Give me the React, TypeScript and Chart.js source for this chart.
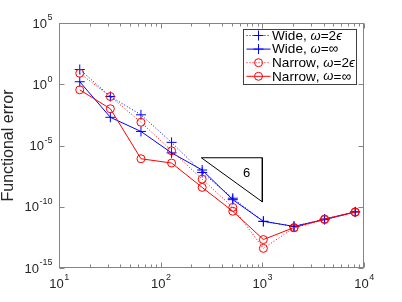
import React, { useEffect, useRef } from 'react';
import { Chart, registerables } from 'chart.js';
Chart.register(...registerables);

const problemSizes = [16, 32, 64, 128, 256, 512, 1024, 2048, 4096, 8192];
const wideTwoEps = [16, 1e-1, 3.2e-3, 1.8e-5, 6.3e-8, 5e-10, 6.3e-12, 2.5e-12, 1e-11, 3.8e-11];
const wideInf = [1.6, 2e-3, 1.4e-4, 2.5e-6, 1e-7, 3.8e-10, 6.5e-12, 2.5e-12, 8.9e-12, 3.8e-11];
const narrowTwoEps = [7.9, 1e-1, 7.9e-4, 3.7e-6, 1.8e-8, 8.9e-11, 4e-14, 1.9e-12, 8.9e-12, 3.5e-11];
const narrowInf = [0.35, 1e-2, 8.3e-7, 3.7e-7, 3.8e-9, 4.3e-11, 2.1e-13, 2e-12, 1e-11, 3.8e-11];

const seriesLabels = ['Wide, ω=2ϵ', 'Wide, ω=∞', 'Narrow, ω=2ϵ', 'Narrow, ω=∞'];
const seriesColors = ['#0000ff', '#0000ff', '#ff0000', '#ff0000'];
const seriesDotted = [true, false, true, false];
const seriesMarkers = ['cross', 'cross', 'circle', 'circle'];

const xMajorTicks = [10, 100, 1000, 10000];
const xTickExponents = ['1', '2', '3', '4'];
const yMajorTicks = [1e-15, 1e-10, 1e-5, 1, 1e5];
const yTickExponents = ['-15', '-10', '-5', '0', '5'];
const yTitle = 'Functional error';

const slopeTriangleX = [251, 1000, 1000, 251];
const slopeTriangleY = [1e-6, 1e-6, 2.5e-10, 1e-6];
const slopeLabel = '6';
const slopeLabelX = 700;
const slopeLabelY = 5e-8;

const FONT = '"Liberation Sans", Arial, Helvetica, sans-serif';
const TEXT = '#262626';
const DOT = [1, 2];

function drawPow(ctx: CanvasRenderingContext2D, base: string, exp: string, x: number, y: number, align: 'center' | 'right') {
  ctx.font = `13px ${FONT}`;
  const wb = ctx.measureText(base).width;
  ctx.font = `9px ${FONT}`;
  const we = ctx.measureText(exp).width;
  const total = wb + we;
  const start = align === 'center' ? x - total / 2 : x - total;
  ctx.textAlign = 'left';
  ctx.textBaseline = 'middle';
  ctx.fillStyle = TEXT;
  ctx.font = `13px ${FONT}`;
  ctx.fillText(base, start, y);
  ctx.font = `9px ${FONT}`;
  ctx.fillText(exp, start + wb + 0.5, y - 6);
}

function drawMarker(ctx: CanvasRenderingContext2D, kind: string, x: number, y: number, color: string) {
  ctx.strokeStyle = color;
  ctx.lineWidth = 1;
  ctx.setLineDash([]);
  ctx.beginPath();
  if (kind === 'cross') {
    ctx.moveTo(x - 5, y); ctx.lineTo(x + 5, y);
    ctx.moveTo(x, y - 5); ctx.lineTo(x, y + 5);
  } else {
    ctx.arc(x, y, 4, 0, Math.PI * 2);
  }
  ctx.stroke();
}

const decor = {
  id: 'decor',
  afterDraw(chart: any) {
    const { ctx, chartArea: a, scales } = chart;
    const xs = scales.x, ys = scales.y;
    ctx.save();
    ctx.strokeStyle = '#858585';
    ctx.lineWidth = 1;
    ctx.setLineDash([]);
    const L = Math.round(a.left) + 0.5, R = Math.round(a.right) - 0.5;
    const T = Math.round(a.top) + 0.5, B = Math.round(a.bottom) - 0.5;
    ctx.strokeRect(L, T, R - L, B - T);
    ctx.beginPath();
    for (let i = 0; i < xMajorTicks.length; i++) {
      const d = xMajorTicks[i];
      const kmax = i === xMajorTicks.length - 1 ? 1 : 9;
      for (let k = 1; k <= kmax; k++) {
        const px = Math.round(xs.getPixelForValue(k * d)) + 0.5;
        const len = k === 1 ? 5 : 3;
        ctx.moveTo(px, B); ctx.lineTo(px, B - len);
        ctx.moveTo(px, T); ctx.lineTo(px, T + len);
      }
    }
    for (const v of yMajorTicks) {
      const py = Math.round(ys.getPixelForValue(v)) + 0.5;
      ctx.moveTo(L, py); ctx.lineTo(L + 5, py);
      ctx.moveTo(R, py); ctx.lineTo(R - 5, py);
    }
    ctx.stroke();
    xMajorTicks.forEach((v, i) => drawPow(ctx, '10', xTickExponents[i], xs.getPixelForValue(v), 284, 'center'));
    yMajorTicks.forEach((v, i) => drawPow(ctx, '10', yTickExponents[i], 52, ys.getPixelForValue(v) + 1, 'right'));
    ctx.save();
    ctx.translate(9, (a.top + a.bottom) / 2);
    ctx.rotate(-Math.PI / 2);
    ctx.font = `16px ${FONT}`;
    ctx.fillStyle = TEXT;
    ctx.textAlign = 'center';
    ctx.textBaseline = 'middle';
    ctx.fillText(yTitle, 0, 0);
    ctx.restore();
    ctx.font = `13px ${FONT}`;
    ctx.fillStyle = '#000';
    ctx.textAlign = 'center';
    ctx.textBaseline = 'middle';
    ctx.fillText(slopeLabel, xs.getPixelForValue(slopeLabelX), ys.getPixelForValue(slopeLabelY));
    const bx = 243.5, by = 29.5, bw = 113, bh = 55;
    ctx.fillStyle = '#fff';
    ctx.fillRect(bx, by, bw, bh);
    ctx.strokeStyle = '#404040';
    ctx.lineWidth = 1;
    ctx.strokeRect(bx, by, bw, bh);
    seriesLabels.forEach((lab, i) => {
      const cy = 35.5 + i * 13.6;
      ctx.strokeStyle = seriesColors[i];
      ctx.lineWidth = 1;
      ctx.setLineDash(seriesDotted[i] ? DOT : []);
      ctx.beginPath();
      ctx.moveTo(246.5, cy); ctx.lineTo(270.5, cy);
      ctx.stroke();
      drawMarker(ctx, seriesMarkers[i], 258.5, cy, seriesColors[i]);
      let tx = 272;
      ctx.fillStyle = '#000';
      ctx.textAlign = 'left';
      ctx.textBaseline = 'middle';
      for (const ch of lab) {
        const it = ch === 'ω' || ch === 'ϵ';
        ctx.font = it ? `italic 13px ${FONT}` : `13.6px ${FONT}`;
        ctx.fillText(ch, tx, cy + 0.5);
        tx += ctx.measureText(ch).width;
      }
    });
    ctx.restore();
  },
};

export default function App() {
  const ref = useRef<HTMLCanvasElement | null>(null);
  useEffect(() => {
    if (!ref.current) return;
    const series = [wideTwoEps, wideInf, narrowTwoEps, narrowInf];
    const datasets: any[] = series.map((vals, i) => ({
      label: seriesLabels[i],
      data: problemSizes.map((n, j) => ({ x: n, y: vals[j] })),
      borderColor: seriesColors[i],
      borderWidth: 1,
      borderDash: seriesDotted[i] ? DOT : [],
      pointStyle: seriesMarkers[i],
      pointRadius: seriesMarkers[i] === 'cross' ? 5 : 4,
      pointBorderWidth: 1,
      pointBorderColor: seriesColors[i],
      pointBackgroundColor: 'rgba(0,0,0,0)',
      fill: false,
      tension: 0,
      order: 4 - i,
    }));
    datasets.push({
      label: 'slope',
      data: slopeTriangleX.map((x, j) => ({ x, y: slopeTriangleY[j] })),
      borderColor: '#000',
      borderWidth: 1,
      pointRadius: 0,
      fill: false,
      tension: 0,
      order: 0,
    });
    const chart = new Chart(ref.current, {
      type: 'line',
      data: { datasets },
      plugins: [decor],
      options: {
        animation: false,
        responsive: true,
        maintainAspectRatio: false,
        layout: { padding: { left: 0, right: 38, top: 23, bottom: 0 } },
        plugins: { legend: { display: false }, tooltip: { enabled: false } },
        scales: {
          x: {
            type: 'logarithmic',
            min: 10,
            max: 10000,
            grid: { display: false },
            border: { display: false },
            ticks: { display: false },
            afterFit: (s: any) => { s.height = 34; },
          },
          y: {
            type: 'logarithmic',
            min: 1e-15,
            max: 1e5,
            grid: { display: false },
            border: { display: false },
            ticks: { display: false },
            afterFit: (s: any) => { s.width = 59; },
          },
        },
      },
    });
    return () => chart.destroy();
  }, []);
  return (
    <div style={{ position: 'absolute', left: 0, top: 0, width: 402, height: 302, background: '#fff' }}>
      <canvas ref={ref} />
    </div>
  );
}
